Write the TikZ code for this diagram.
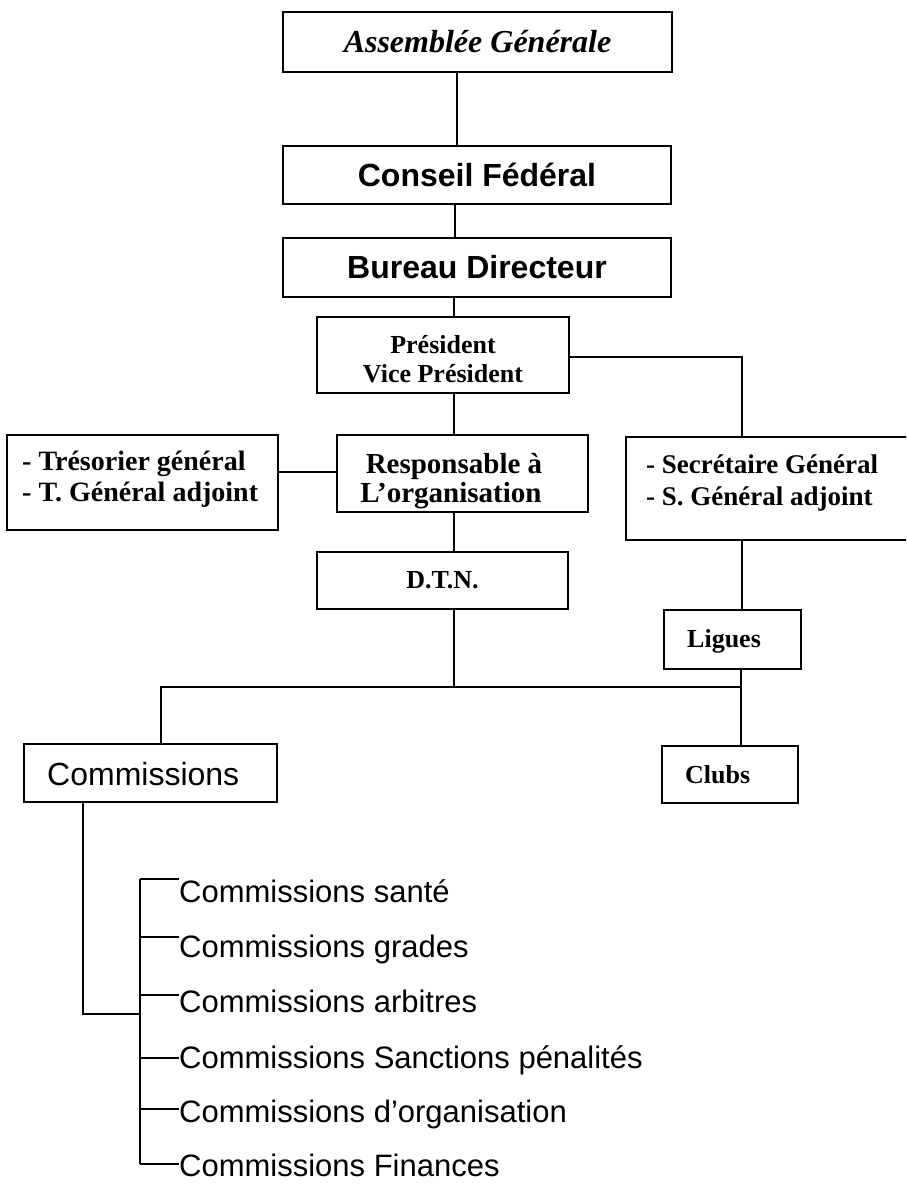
\documentclass[tikz,border=0pt]{standalone}
\usepackage{fontspec}
\setmainfont{Liberation Serif}
\newfontfamily\arialfont{Liberation Sans}

\begin{document}
\begin{tikzpicture}[x=1pt,y=-1pt,
  box/.style={draw, line width=2pt, rectangle, inner sep=0pt},
  link/.style={line width=1.9pt},
  thinlink/.style={line width=1.1pt},
  serifbf/.style={font=\fontsize{27}{30}\selectfont\bfseries},
  serifsm/.style={font=\fontsize{26}{28}\selectfont\bfseries},
  sansbf/.style={font=\arialfont\fontsize{32}{36}\selectfont\bfseries},
  sansrm/.style={font=\arialfont\fontsize{32}{36}\selectfont},
  item/.style={font=\arialfont\fontsize{31}{34}\selectfont, anchor=base west, inner sep=0pt},
  lbl/.style={anchor=base west, inner sep=0pt},
  clbl/.style={anchor=base, inner sep=0pt}]

\clip (0,0) rectangle (906,1184);

% upper chain of bodies
\node[box, minimum width=389, minimum height=60,
      font=\fontsize{32}{36}\selectfont\bfseries\itshape] (ag) at (477.5,42) {Assemblée Générale};
\node[box, sansbf, minimum width=388, minimum height=58] (cf) at (477,175) {Conseil Fédéral};
\node[box, sansbf, minimum width=388, minimum height=59] (bd) at (477,267.5) {Bureau Directeur};
\node[box, minimum width=252, minimum height=76] (pres) at (443,355) {};
\node[clbl, serifsm] (pres1) at (443,353) {Président};
\node[clbl, serifsm] (pres2) at (443,382) {Vice Président};

% second level
\node[box, minimum width=271, minimum height=95] (treso) at (142.5,482.5) {};
\node[lbl, font=\fontsize{28}{30}\selectfont\bfseries] (treso1) at (22,470) {- Trésorier général};
\node[lbl, font=\fontsize{28}{30}\selectfont\bfseries] (treso2) at (22,501) {- T. Général adjoint};

\node[box, minimum width=251, minimum height=77] (resp) at (462.5,473.5) {};
\node[clbl, font=\fontsize{29}{30}\selectfont\bfseries] (resp1) at (454,473) {Responsable à};
\node[clbl, font=\fontsize{29}{30}\selectfont\bfseries] (resp2) at (451,502) {L’organisation};

\node[box, minimum width=330, minimum height=103] (sec) at (791,488.5) {};
\node[lbl, serifbf] (sec1) at (646,473) {- Secrétaire Général};
\node[lbl, serifbf] (sec2) at (646,505) {- S. Général adjoint};

\node[box, serifsm, minimum width=251, minimum height=57] (dtn) at (442.5,580.5) {D.T.N.};

\node[box, minimum width=137, minimum height=59] (ligues) at (732.5,639.5) {};
\node[lbl, serifsm] (liguestxt) at (687,647) {Ligues};
\node[box, minimum width=136, minimum height=57] (clubs) at (730,774.5) {};
\node[lbl, serifsm] (clubstxt) at (685,783) {Clubs};

\node[box, minimum width=253, minimum height=58] (comm) at (150.5,773) {};
\node[lbl, sansrm] (commtxt) at (47,785) {Commissions};

% list of commissions
\node[item] (c1) at (179,902)  {Commissions santé};
\node[item] (c2) at (179,957)  {Commissions grades};
\node[item] (c3) at (179,1012) {Commissions arbitres};
\node[item] (c4) at (179,1068) {Commissions Sanctions pénalités};
\node[item] (c5) at (179,1122) {Commissions d’organisation};
\node[item] (c6) at (179,1176) {Commissions Finances};

% spine positions
\coordinate (xa) at (457,0);
\coordinate (xb) at (455,0);
\coordinate (xc) at (454,0);
\coordinate (xs) at (742,0);
\coordinate (yps) at (0,357);
\coordinate (yt) at (0,472);
\coordinate (bus) at (741,687);
\coordinate (xcl) at (161,0);
\coordinate (xcm) at (83,0);
\coordinate (brk) at (140,1014);
\coordinate (k1) at (140,879);
\coordinate (k2) at (140,937);
\coordinate (k3) at (140,995);
\coordinate (k4) at (140,1058);
\coordinate (k5) at (140,1109);
\coordinate (k6) at (140,1164);

% connectors
\draw[thinlink] (ag.south -| xa) -- (cf.north -| xa);
\draw[link] (cf.south -| xb) -- (bd.north -| xb);
\draw[link] (bd.south -| xc) -- (pres.north -| xc);
\draw[link] (pres.south -| xc) -- (resp.north -| xc);
\draw[link] (treso.east |- yt) -- (resp.west |- yt);
\draw[link] (pres.east |- yps) -| (sec.north -| xs);
\draw[link] (resp.south -| xc) -- (dtn.north -| xc);
\draw[link] (dtn.south -| xc) -- (xc |- bus);
\draw[link] (comm.north -| xcl) |- (bus);
\draw[link] (sec.south -| xs) -- (ligues.north -| xs);
\draw[link] (ligues.south -| bus) -- (clubs.north -| bus);
\draw[link] (comm.south -| xcm) |- (brk);
\draw[link] (k1) -- (k6);
\foreach \k/\c in {k1/c1,k2/c2,k3/c3,k4/c4,k5/c5,k6/c6}
  \draw[link] (\k) -- (\k -| \c.west);
\end{tikzpicture}
\end{document}
